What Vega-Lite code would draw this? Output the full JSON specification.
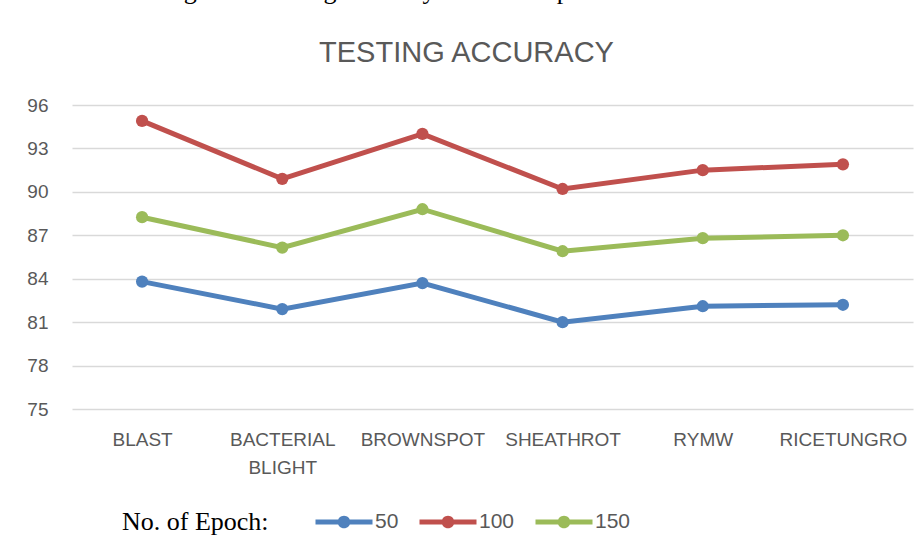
{
  "$schema": "https://vega.github.io/schema/vega-lite/v6.json",
  "width": 841,
  "height": 304,
  "autosize": {"type": "none"},
  "padding": {"left": 72, "top": 105, "right": 7, "bottom": 147},
  "background": "white",
  "title": {
    "text": "Fig. 11: Training accuracy vs. no. of epoch",
    "anchor": "start",
    "frame": "group",
    "dx": 90,
    "font": "Liberation Serif",
    "fontSize": 26,
    "fontWeight": "normal",
    "color": "black",
    "baseline": "alphabetic",
    "offset": 13
  },
  "data": {
    "values": [
      {"category": "BLAST", "epoch": "50", "accuracy": 83.8},
      {"category": "BACTERIAL BLIGHT", "epoch": "50", "accuracy": 81.9},
      {"category": "BROWNSPOT", "epoch": "50", "accuracy": 83.7},
      {"category": "SHEATHROT", "epoch": "50", "accuracy": 81.0},
      {"category": "RYMW", "epoch": "50", "accuracy": 82.1},
      {"category": "RICETUNGRO", "epoch": "50", "accuracy": 82.2},
      {"category": "BLAST", "epoch": "100", "accuracy": 94.9},
      {"category": "BACTERIAL BLIGHT", "epoch": "100", "accuracy": 90.9},
      {"category": "BROWNSPOT", "epoch": "100", "accuracy": 94.0},
      {"category": "SHEATHROT", "epoch": "100", "accuracy": 90.2},
      {"category": "RYMW", "epoch": "100", "accuracy": 91.5},
      {"category": "RICETUNGRO", "epoch": "100", "accuracy": 91.9},
      {"category": "BLAST", "epoch": "150", "accuracy": 88.25},
      {"category": "BACTERIAL BLIGHT", "epoch": "150", "accuracy": 86.15},
      {"category": "BROWNSPOT", "epoch": "150", "accuracy": 88.8},
      {"category": "SHEATHROT", "epoch": "150", "accuracy": 85.9},
      {"category": "RYMW", "epoch": "150", "accuracy": 86.8},
      {"category": "RICETUNGRO", "epoch": "150", "accuracy": 87.0}
    ]
  },
  "encoding": {
    "y": {
      "field": "accuracy",
      "type": "quantitative",
      "scale": {"domain": [75, 96], "nice": false, "zero": false},
      "axis": {
        "title": null,
        "values": [75, 78, 81, 84, 87, 90, 93, 96],
        "domain": false,
        "ticks": false,
        "gridColor": "#d9d9d9",
        "gridWidth": 1.5,
        "labelFont": "Liberation Sans",
        "labelFontSize": 19,
        "labelColor": "#595959",
        "labelPadding": 24
      }
    },
    "color": {
      "field": "epoch",
      "type": "nominal",
      "sort": ["50", "100", "150"],
      "scale": {"domain": ["50", "100", "150"], "range": ["#4F81BD", "#C0504D", "#9BBB59"]},
      "legend": {
        "orient": "none",
        "legendX": 50,
        "legendY": 406,
        "direction": "horizontal",
        "title": "No. of Epoch:",
        "titleOrient": "left",
        "titleFont": "Liberation Serif",
        "titleFontSize": 26,
        "titleFontWeight": "normal",
        "titleColor": "black",
        "titlePadding": 64,
        "symbolType": "M-2.591,-0.227L2.591,-0.227L2.591,0.227L-2.591,0.227Z M0.577,0A0.577,0.577 0 1,1 -0.577,0A0.577,0.577 0 1,1 0.577,0Z",
        "symbolSize": 484,
        "labelFont": "Liberation Sans",
        "labelFontSize": 21,
        "labelColor": "#595959",
        "labelOffset": 20,
        "columnPadding": 20,
        "padding": 0,
        "encode": {
          "symbols": {
            "update": {
              "fill": {"scale": "color", "field": "value"},
              "stroke": {"value": "transparent"},
              "strokeWidth": {"value": 0},
              "opacity": {"value": 1}
            }
          }
        }
      }
    }
  },
  "layer": [
    {
      "mark": {"type": "line", "strokeWidth": 5},
      "encoding": {
        "x": {
          "field": "category",
          "type": "nominal",
          "sort": ["BLAST", "BACTERIAL BLIGHT", "BROWNSPOT", "SHEATHROT", "RYMW", "RICETUNGRO"],
          "scale": {"type": "point", "padding": 0.5},
          "axis": {
            "title": null,
            "domain": false,
            "ticks": false,
            "grid": false,
            "labelAngle": 0,
            "labelFont": "Liberation Sans",
            "labelFontSize": 19,
            "labelColor": "#595959",
            "labelPadding": 21,
            "labelLineHeight": 28,
            "labelLimit": 300,
            "labelOverlap": false,
            "labelExpr": "datum.value == 'BACTERIAL BLIGHT' ? ['BACTERIAL', 'BLIGHT'] : datum.value"
          }
        }
      }
    },
    {
      "mark": {"type": "point", "filled": true, "size": 150, "opacity": 1},
      "encoding": {
        "x": {
          "field": "category",
          "type": "nominal",
          "sort": ["BLAST", "BACTERIAL BLIGHT", "BROWNSPOT", "SHEATHROT", "RYMW", "RICETUNGRO"],
          "scale": {"type": "point", "padding": 0.5},
          "axis": {
            "orient": "top",
            "labels": false,
            "ticks": false,
            "domain": false,
            "grid": false,
            "title": "TESTING ACCURACY",
            "titleFont": "Liberation Sans",
            "titleFontSize": 29,
            "titleFontWeight": "normal",
            "titleColor": "#595959",
            "titlePadding": 38,
            "titleX": 394,
            "titleAlign": "center"
          }
        }
      }
    }
  ],
  "resolve": {"axis": {"x": "independent"}},
  "config": {"view": {"stroke": null}}
}
